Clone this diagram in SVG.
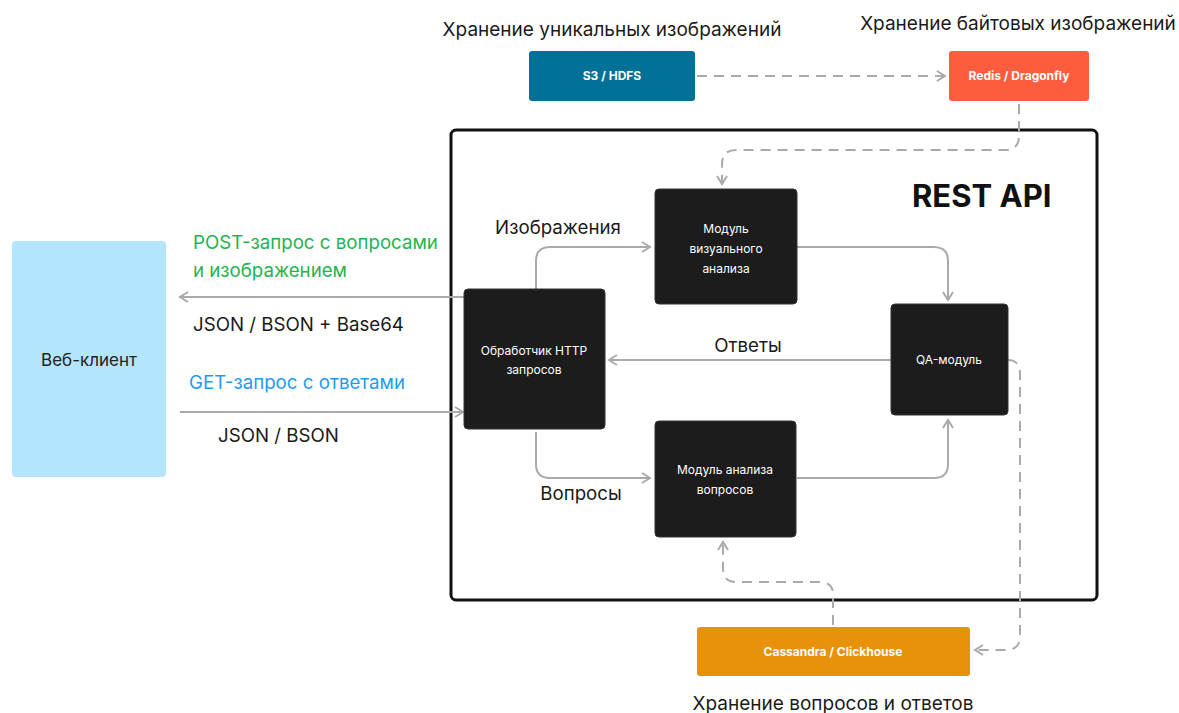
<svg xmlns="http://www.w3.org/2000/svg" width="1179" height="713" viewBox="0 0 1179 713">
<defs>
<marker id="ah" viewBox="0 0 12 12" refX="10" refY="6" markerWidth="12" markerHeight="12" markerUnits="userSpaceOnUse" orient="auto">
<path d="M2,1 L10,6 L2,11" fill="none" stroke="#aaaaaa" stroke-width="2"/>
</marker>
</defs>
<style>
text{font-family:Inter,"Noto Sans","Liberation Sans",sans-serif}
.lbl{font-size:18.7px;fill:#1a1a1a}
.top{font-size:19px;fill:#1a1a1a;text-anchor:middle}
.nt{font-size:12px;fill:#ffffff;text-anchor:middle}
.dark{fill:#1c1c1c;stroke:#333;stroke-width:1}
.c{fill:none;stroke:#aaaaaa;stroke-width:2;marker-end:url(#ah)}
.d{stroke-dasharray:10 7}
</style>
<rect width="1179" height="713" fill="#ffffff"/>
<g id="frame">
<rect x="451" y="130" width="646" height="470" rx="5" fill="none" stroke="#111" stroke-width="3"/>
<text x="912" y="207" font-size="31" font-weight="700" fill="#111">REST API</text>
</g>
<g id="connectors">
<path class="c d" d="M697,76 H945"/>
<path class="c d" d="M1019,104 V136 Q1019,150 1005,150 H736 Q722,150 722,164 V184"/>
<path class="c" d="M536,289 V261 Q536,247 550,247 H650"/>
<path class="c" d="M797,247 H934 Q948,247 948,261 V300"/>
<path class="c" d="M891,360 H609"/>
<path class="c" d="M536,432 V464 Q536,478 550,478 H650"/>
<path class="c" d="M797,478 H934 Q948,478 948,464 V420"/>
<path class="c d" d="M833,625 V594 Q833,582 819,582 H736 Q723,582 723,568 V542"/>
<path class="c d" d="M1008,360 Q1020,360 1020,374 V636 Q1020,650 1006,650 H975"/>
<path class="c" d="M464,297 H180"/>
<path class="c" d="M180,412 H463"/>
</g>
<g id="web-client">
<rect x="12" y="241" width="154" height="236" rx="4" fill="#b3e5fc"/>
<text x="89" y="366" font-size="17" fill="#222" text-anchor="middle">Веб-клиент</text>
</g>
<g id="s3">
<text x="612" y="36" class="top">Хранение уникальных изображений</text>
<rect x="529" y="51" width="166" height="50" rx="3" fill="#017198"/>
<text x="612" y="80" class="nt" font-weight="700">S3 / HDFS</text>
</g>
<g id="redis">
<text x="1018" y="30" class="top">Хранение байтовых изображений</text>
<rect x="949" y="51" width="140" height="50" rx="3" fill="#fe5c3e"/>
<text x="1019" y="80" class="nt" font-weight="700">Redis / Dragonfly</text>
</g>
<g id="visual">
<rect class="dark" x="655" y="189" width="142" height="115" rx="4"/>
<text class="nt" x="726" y="233">Модуль</text>
<text class="nt" x="726" y="253">визуального</text>
<text class="nt" x="726" y="273">анализа</text>
</g>
<g id="http">
<rect class="dark" x="464" y="289" width="141" height="140" rx="4"/>
<text class="nt" x="534" y="355">Обработчик HTTP</text>
<text class="nt" x="534" y="374">запросов</text>
</g>
<g id="qa">
<rect class="dark" x="891" y="304" width="117" height="111" rx="4"/>
<text class="nt" x="949" y="364">QA-модуль</text>
</g>
<g id="questions">
<rect class="dark" x="655" y="421" width="141" height="116" rx="4"/>
<text class="nt" x="725" y="474">Модуль анализа</text>
<text class="nt" x="725" y="494">вопросов</text>
</g>
<g id="cassandra">
<rect x="697" y="627" width="273" height="49" rx="3" fill="#e8920a"/>
<text x="833" y="656" class="nt" font-weight="700">Cassandra / Clickhouse</text>
<text x="833" y="710" class="top">Хранение вопросов и ответов</text>
</g>
<g id="labels">
<text x="558" y="234" class="lbl" text-anchor="middle">Изображения</text>
<text x="748" y="352" class="lbl" text-anchor="middle">Ответы</text>
<text x="581" y="500" class="lbl" text-anchor="middle">Вопросы</text>
<text x="193" y="249" font-size="18.7" fill="#1fb44d">POST-запрос с вопросами</text>
<text x="193" y="277" font-size="18.7" fill="#1fb44d">и изображением</text>
<text x="193" y="331" class="lbl">JSON / BSON + Base64</text>
<text x="189" y="389" font-size="18.7" fill="#1e9bf2">GET-запрос с ответами</text>
<text x="218" y="442" class="lbl">JSON / BSON</text>
</g>
</svg>
